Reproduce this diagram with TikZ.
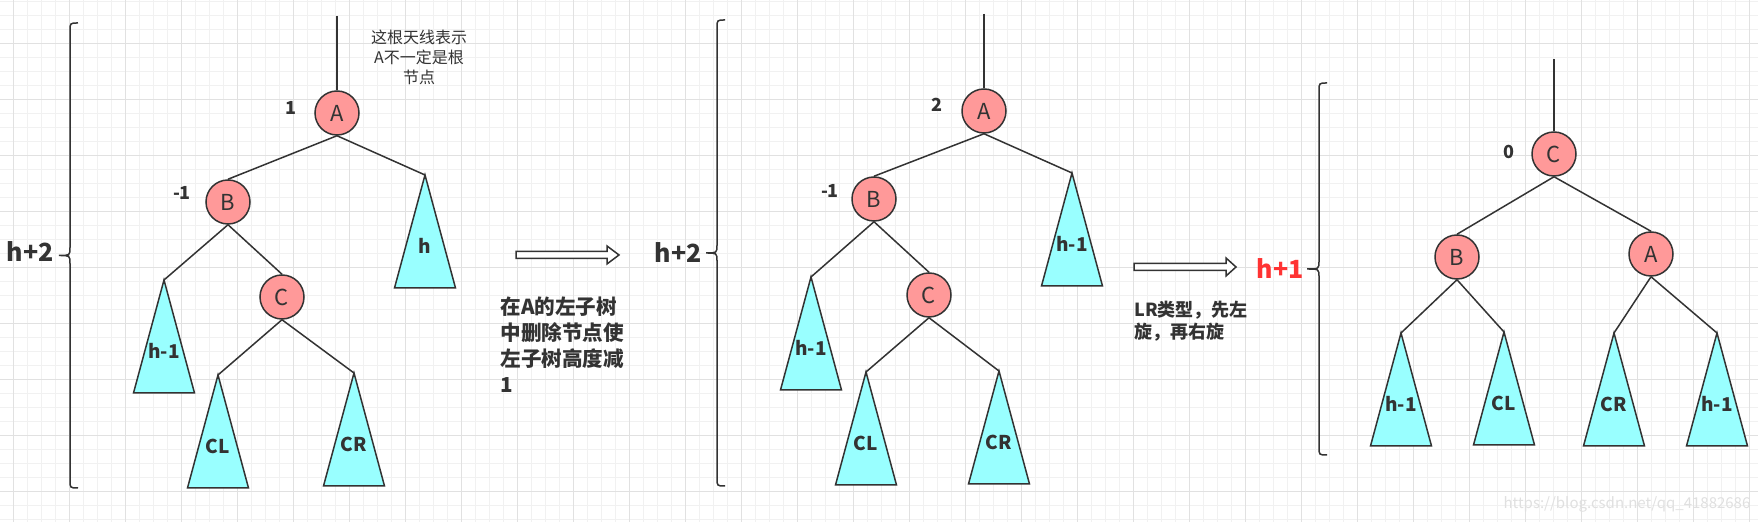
\documentclass[tikz,border=0pt]{standalone}
\usepackage{fontspec}
\setmainfont{Noto Sans CJK SC}

\definecolor{nodered}{HTML}{FF9999}
\definecolor{treecyan}{HTML}{99FFFF}
\definecolor{ink}{HTML}{333333}
\definecolor{gridminor}{HTML}{F1F1F1}
\definecolor{gridmajor}{HTML}{E1E1E1}
\definecolor{hred}{HTML}{FF3333}

% subtree: name, apex x, apex y, label
\newcommand{\subtree}[4]{%
  \coordinate (#1) at (#2,#3);
  \draw[tri] (#1) -- ++(-30.5,113) -- ++(61,0) -- cycle;
  \node[treelab] (#1-lab) at (#2,#3+71) {#4};
}
% brace: x, top, bottom, tip x
\newcommand{\hbrace}[4]{%
  \draw[brace] (#1+8,#2) .. controls (#1,#2) .. (#1,#2+8)
    -- (#1,{(#2+#3)/2-8}) .. controls (#1,{(#2+#3)/2}) .. (#4,{(#2+#3)/2})
    .. controls (#1,{(#2+#3)/2}) .. (#1,{(#2+#3)/2+8})
    -- (#1,#3-8) .. controls (#1,#3) .. (#1+8,#3);
}
% hollow arrow: start x, head x, tip x, y
\newcommand{\fatarrow}[4]{%
  \draw[edge, fill=white, line join=miter] (#1,#4-3.5) -- (#2,#4-3.5) -- (#2,#4-9) -- (#3,#4)
    -- (#2,#4+9) -- (#2,#4+3.5) -- (#1,#4+3.5) -- cycle;
}

\begin{document}
\begin{tikzpicture}[x=0.5pt, y=-0.5pt,
    avl/.style={circle, draw=ink, fill=nodered, line width=.75pt, minimum size=22pt, inner sep=0pt, text=ink, font=\fontsize{11}{11}\selectfont},
    bf/.style={text=ink, inner sep=0pt, font=\bfseries\fontsize{9}{9}\selectfont},
    treelab/.style={text=ink, inner sep=0pt, font=\bfseries\fontsize{9.5}{9.5}\selectfont},
    tri/.style={draw=ink, fill=treecyan, line width=.75pt, line join=miter},
    edge/.style={draw=ink, line width=.75pt},
    brace/.style={draw=ink, line width=.75pt},
    hlab/.style={text=ink, inner sep=0pt, font=\bfseries\fontsize{12.5}{12.5}\selectfont},
    note/.style={text=ink, inner sep=0pt, anchor=west, align=left}]

    \useasboundingbox (0,0) rectangle (1758,522);
    \fill[white] (0,0) rectangle (1758,522);

    % background grid
    \foreach \gx in {13,27,...,1757} \draw[gridminor, line width=.5pt] (\gx,0) -- (\gx,522);
    \foreach \gy in {2,16,...,520} \draw[gridminor, line width=.5pt] (0,\gy) -- (1758,\gy);
    \foreach \gx in {13,69,...,1757} \draw[gridmajor, line width=.5pt] (\gx,0) -- (\gx,522);
    \foreach \gy in {44,100,...,520} \draw[gridmajor, line width=.5pt] (0,\gy) -- (1758,\gy);

    % ---- before deletion
    \coordinate (top1) at (337,16);
    \node[avl] (A1) at (337,113) {A};
    \node[avl] (B1) at (228,202) {B};
    \node[avl] (C1) at (282,297) {C};
    \subtree{t1h}{425}{175}{h}
    \subtree{t1b}{164}{280}{h-1}
    \subtree{t1cl}{218}{375}{CL}
    \subtree{t1cr}{354}{373}{CR}
    \draw[edge] (top1) -- (A1.north);
    \draw[edge] (A1.south) -- (B1.north);
    \draw[edge] (A1.south) -- (t1h);
    \draw[edge] (B1.south) -- (t1b);
    \draw[edge] (B1.south) -- (C1.north);
    \draw[edge] (C1.south) -- (t1cl);
    \draw[edge] (C1.south) -- (t1cr);
    \node[bf] (bfA1) at (291,108) {1};
    \node[bf] (bfB1) at (182,193) {-1};
    \node[text=ink, align=center, font=\fontsize{8}{10}\selectfont] (ant1) at (419,57) {这根天线表示\\A不一定是根\\节点};
    \hbrace{70}{23}{488}{59}
    \node[hlab] (h1) at (30,252) {h+2};

    \fatarrow{516}{607}{619}{255}
    \node[note, font=\bfseries\fontsize{10.3}{13}\selectfont] (note1) at (500,345) {在A的左子树\\中删除节点使\\左子树高度减\\1};

    % ---- after deletion
    \coordinate (top2) at (984,14);
    \node[avl] (A2) at (984,111) {A};
    \node[avl] (B2) at (874,199) {B};
    \node[avl] (C2) at (929,295) {C};
    \subtree{t2h}{1072}{173}{h-1}
    \subtree{t2b}{811}{277}{h-1}
    \subtree{t2cl}{866}{372}{CL}
    \subtree{t2cr}{999}{371}{CR}
    \draw[edge] (top2) -- (A2.north);
    \draw[edge] (A2.south) -- (B2.north);
    \draw[edge] (A2.south) -- (t2h);
    \draw[edge] (B2.south) -- (t2b);
    \draw[edge] (B2.south) -- (C2.north);
    \draw[edge] (C2.south) -- (t2cl);
    \draw[edge] (C2.south) -- (t2cr);
    \node[bf] (bfA2) at (937,105) {2};
    \node[bf] (bfB2) at (830,191) {-1};
    \hbrace{717}{20}{486}{706}
    \node[hlab] (h2) at (678,253) {h+2};

    \fatarrow{1134}{1226}{1236}{267}
    \node[note, font=\bfseries\fontsize{9}{11}\selectfont] (note2) at (1134,321) {LR类型，先左\\旋，再右旋};

    % ---- after LR rotation
    \coordinate (top3) at (1554,59);
    \node[avl] (C3) at (1554,154) {C};
    \node[avl] (B3) at (1457,257) {B};
    \node[avl] (A3) at (1651,254) {A};
    \subtree{t3a}{1401}{333}{h-1}
    \subtree{t3b}{1504}{332}{CL}
    \subtree{t3c}{1614}{333}{CR}
    \subtree{t3d}{1717}{333}{h-1}
    \draw[edge] (top3) -- (C3.north);
    \draw[edge] (C3.south) -- (B3.north);
    \draw[edge] (C3.south) -- (A3.north);
    \draw[edge] (B3.south) -- (t3a);
    \draw[edge] (B3.south) -- (t3b);
    \draw[edge] (A3.south) -- (t3c);
    \draw[edge] (A3.south) -- (t3d);
    \node[bf] (bfC3) at (1509,152) {0};
    \hbrace{1319}{83}{455}{1307}
    \node[hlab, text=hred] (h3) at (1280,269) {h+1};

    \node[text=black!12, inner sep=0pt, font=\fontsize{7.5}{7.5}\selectfont] (mark) at (1627,504) {https://blog.csdn.net/qq\_41882686};
\end{tikzpicture}
\end{document}
